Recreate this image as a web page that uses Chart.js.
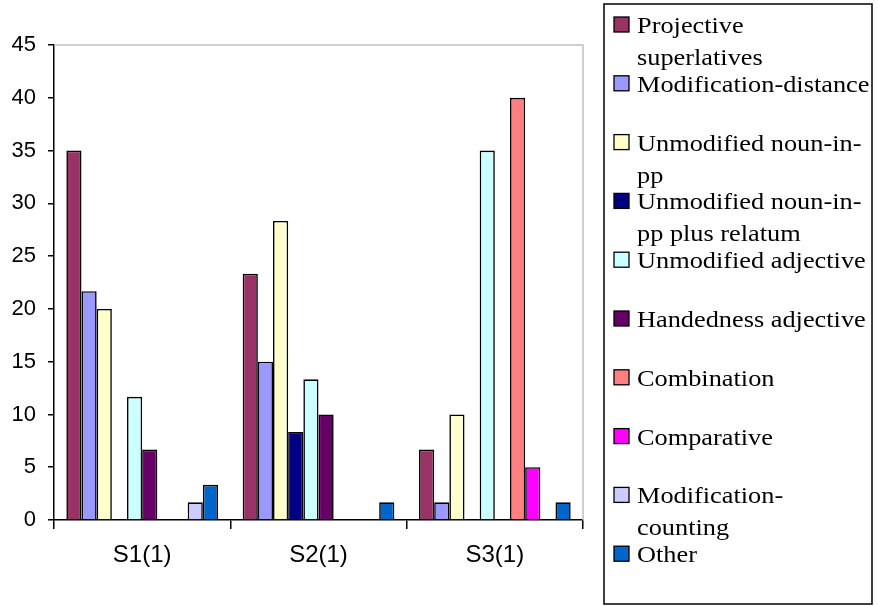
<!DOCTYPE html>
<html>
<head>
<meta charset="utf-8">
<script src="https://cdn.jsdelivr.net/npm/chart.js@4.4.1/dist/chart.umd.min.js"></script>
<style>
  html, body { margin: 0; padding: 0; background: #fff; }
  #wrap { width: 878px; height: 606px; }
</style>
</head>
<body>
<div id="wrap"><canvas id="refChart" width="878" height="606"></canvas></div>
<script>
// categories & tick labels
const categories = ['S1(1)', 'S2(1)', 'S3(1)'];
const yTicks = [0, 5, 10, 15, 20, 25, 30, 35, 40, 45];

// series values
const projective   = [35, 23.33, 6.67];
const modDistance  = [21.67, 15, 1.67];
const unmodNoun    = [20, 28.33, 10];
const unmodNounRel = [0, 8.33, 0];
const unmodAdj     = [11.67, 13.33, 35];
const handedness   = [6.67, 10, 0];
const combination  = [0, 0, 40];
const comparative  = [0, 0, 5];
const modCounting  = [1.67, 0, 0];
const other        = [3.33, 1.67, 1.67];

// legend text, split the way the original wraps it
const seriesLines = [
    ['Projective', 'superlatives'],
    ['Modification-distance'],
    ['Unmodified noun-in-', 'pp'],
    ['Unmodified noun-in-', 'pp plus relatum'],
    ['Unmodified adjective'],
    ['Handedness adjective'],
    ['Combination'],
    ['Comparative'],
    ['Modification-', 'counting'],
    ['Other']
];
const seriesData = [projective, modDistance, unmodNoun, unmodNounRel, unmodAdj,
    handedness, combination, comparative, modCounting, other];
const seriesColors = ['#993366', '#9999FF', '#FFFFCC', '#000080', '#CCFFFF',
    '#660066', '#FF8080', '#FF00FF', '#CCCCFF', '#0066CC'];

const datasets = seriesData.map((d, i) => ({
    label: seriesLines[i].join(' '),
    data: d,
    backgroundColor: seriesColors[i],
    borderColor: '#000',
    borderWidth: 1.6,
    borderSkipped: 'start',
    categoryPercentage: 0.86,
    barPercentage: 1
}));

// gray frame on top/right of plot area
const frameLines = {
    id: 'frameLines',
    beforeDatasetsDraw(chart) {
        const { ctx, chartArea: a } = chart;
        ctx.save();
        ctx.strokeStyle = '#c0c0c0';
        ctx.lineWidth = 1.5;
        ctx.beginPath();
        ctx.moveTo(a.left, a.top);
        ctx.lineTo(a.right, a.top);
        ctx.lineTo(a.right, a.bottom);
        ctx.stroke();
        ctx.restore();
    }
};

// boxed legend on the right, like the Excel one
const boxLegend = {
    id: 'boxLegend',
    afterDraw(chart) {
        const ctx = chart.ctx;
        ctx.save();
        ctx.strokeStyle = '#000';
        ctx.lineWidth = 1.5;
        ctx.strokeRect(604, 4, 268, 600);
        const step = 58.8;
        chart.data.datasets.forEach((ds, i) => {
            const base = 33 + i * step;
            ctx.fillStyle = ds.backgroundColor;
            ctx.fillRect(614, base - 16, 15, 15);
            ctx.lineWidth = 1.3;
            ctx.strokeRect(614, base - 16, 15, 15);
            ctx.fillStyle = '#000';
            ctx.font = '23.5px "Liberation Serif", "Times New Roman", serif';
            ctx.textBaseline = 'alphabetic';
            seriesLines[i].forEach((ln, k) => {
                ctx.save();
                ctx.translate(637, base + k * 32);
                ctx.scale(1.12, 1);
                ctx.fillText(ln, 0, 0);
                ctx.restore();
            });
        });
        ctx.restore();
    }
};

new Chart(document.getElementById('refChart'), {
    type: 'bar',
    data: { labels: categories, datasets },
    options: {
        responsive: false,
        animation: false,
        layout: { padding: { top: 45, right: 295, left: 0, bottom: 0 } },
        plugins: {
            legend: { display: false },
            tooltip: { enabled: false }
        },
        scales: {
            x: {
                grid: { display: true, drawOnChartArea: false, drawTicks: true, tickLength: 9, color: '#000', lineWidth: 1.5, offset: true },
                border: { color: '#000', width: 1.5 },
                ticks: { color: '#000', padding: 12, font: { family: '"Liberation Sans", Arial, sans-serif', size: 24 } },
                afterFit: (s) => { s.height = 86; }
            },
            y: {
                min: 0,
                max: 45,
                afterBuildTicks: (s) => { s.ticks = yTicks.map(v => ({ value: v })); },
                grid: { display: true, drawOnChartArea: false, drawTicks: true, tickLength: 6, color: '#000', lineWidth: 1.5 },
                border: { color: '#000', width: 1.5 },
                ticks: { color: '#000', padding: 12, font: { family: '"Liberation Sans", Arial, sans-serif', size: 22 } },
                afterFit: (s) => { s.width = 54; }
            }
        }
    },
    plugins: [frameLines, boxLegend]
});
</script>
</body>
</html>
